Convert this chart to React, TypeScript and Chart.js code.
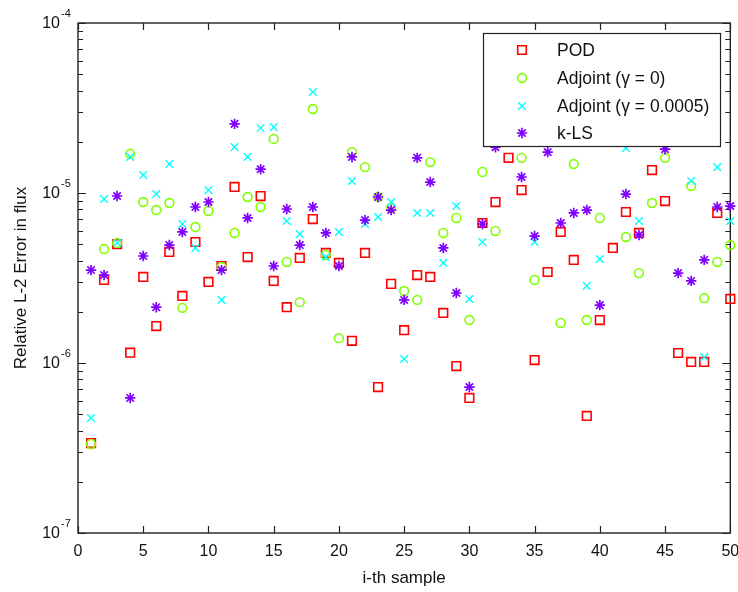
import React, { useEffect, useRef } from 'react';
import { Chart, registerables } from 'chart.js';

Chart.register(...registerables);

const samples = [1, 2, 3, 4, 5, 6, 7, 8, 9, 10, 11, 12, 13, 14, 15, 16, 17, 18, 19, 20, 21, 22, 23, 24, 25, 26, 27, 28, 29, 30, 31, 32, 33, 34, 35, 36, 37, 38, 39, 40, 41, 42, 43, 44, 45, 46, 47, 48, 49, 50];

const podErr = [
  3.38e-7, 3.08e-6, 5.01e-6, 1.15e-6, 3.21e-6, 1.65e-6, 4.5e-6, 2.48e-6, 5.15e-6, 3.0e-6,
  3.72e-6, 1.085e-5, 4.2e-6, 9.6e-6, 3.04e-6, 2.13e-6, 4.15e-6, 7.03e-6, 4.44e-6, 3.88e-6,
  1.35e-6, 4.44e-6, 7.22e-7, 2.92e-6, 1.56e-6, 3.29e-6, 3.21e-6, 1.97e-6, 9.6e-7, 6.23e-7,
  6.66e-6, 8.85e-6, 1.61e-5, 1.04e-5, 1.04e-6, 3.43e-6, 5.9e-6, 4.04e-6, 4.88e-7, 1.79e-6,
  4.75e-6, 7.73e-6, 5.82e-6, 1.365e-5, 8.97e-6, 1.145e-6, 1.014e-6, 1.014e-6, 7.63e-6, 2.38e-6,
];

const adjoint0Err = [
  3.34e-7, 4.68e-6, 5.08e-6, 1.7e-5, 8.85e-6, 7.94e-6, 8.73e-6, 2.11e-6, 6.31e-6, 7.84e-6,
  3.67e-6, 5.82e-6, 9.47e-6, 8.27e-6, 2.08e-5, 3.93e-6, 2.28e-6, 3.12e-5, 4.32e-6, 1.4e-6,
  1.74e-5, 1.42e-5, 9.47e-6, 8.16e-6, 2.65e-6, 2.35e-6, 1.52e-5, 5.82e-6, 7.13e-6, 1.79e-6,
  1.33e-5, 5.98e-6, 2.19e-5, 1.61e-5, 3.08e-6, 2.51e-5, 1.72e-6, 1.48e-5, 1.79e-6, 7.13e-6,
  2.35e-5, 5.51e-6, 3.38e-6, 8.73e-6, 1.61e-5, 2.41e-5, 1.1e-5, 2.41e-6, 3.93e-6, 4.94e-6,
];

const adjoint5Err = [
  4.75e-7, 9.22e-6, 5.08e-6, 1.63e-5, 1.276e-5, 9.86e-6, 1.48e-5, 6.57e-6, 4.75e-6, 1.04e-5,
  2.35e-6, 1.86e-5, 1.63e-5, 2.41e-5, 2.44e-5, 6.84e-6, 5.74e-6, 3.93e-5, 4.2e-6, 5.9e-6,
  1.176e-5, 6.57e-6, 7.22e-6, 8.85e-6, 1.056e-6, 7.63e-6, 7.63e-6, 3.88e-6, 8.38e-6, 2.38e-6,
  5.15e-6, 2.35e-5, 2.76e-5, 2.11e-5, 5.15e-6, 3.08e-5, 2.05e-5, 2.62e-5, 2.84e-6, 4.09e-6,
  2.87e-5, 1.84e-5, 6.84e-6, 2.51e-5, 2.69e-5, 3.29e-5, 1.176e-5, 1.085e-6, 1.42e-5, 6.84e-6,
];

const klsErr = [
  3.52e-6, 3.29e-6, 9.6e-6, 6.23e-7, 4.26e-6, 2.13e-6, 4.94e-6, 5.9e-6, 8.27e-6, 8.85e-6,
  3.52e-6, 2.55e-5, 7.13e-6, 1.38e-5, 3.72e-6, 8.05e-6, 4.94e-6, 8.27e-6, 5.82e-6, 3.72e-6,
  1.63e-5, 6.93e-6, 9.47e-6, 7.94e-6, 2.35e-6, 1.61e-5, 1.16e-5, 4.75e-6, 2.58e-6, 7.22e-7,
  6.57e-6, 1.86e-5, 2.05e-5, 1.242e-5, 5.58e-6, 1.74e-5, 6.66e-6, 7.63e-6, 7.94e-6, 2.19e-6,
  2.05e-5, 9.86e-6, 5.66e-6, 2.19e-5, 1.81e-5, 3.38e-6, 3.04e-6, 4.04e-6, 8.27e-6, 8.38e-6,
];

const xTicks = [0, 5, 10, 15, 20, 25, 30, 35, 40, 45, 50];
const yDecades = [1e-7, 1e-6, 1e-5, 1e-4];
const yExponents = ['-7', '-6', '-5', '-4'];
const seriesLabels = ['POD', 'Adjoint (\u03b3 = 0)', 'Adjoint (\u03b3 = 0.0005)', 'k-LS'];
const xTitle = 'i-th sample';
const yTitle = 'Relative L-2 Error in flux';

const FONT = '"Liberation Sans", Arial, Helvetica, sans-serif';
const AXIS_COLOR = '#222222';
const TEXT_COLOR = '#111111';

const seriesStyles = [
  { color: '#ff0000', pointStyle: 'rect', radius: 6.1, width: 1.6 },
  { color: '#80ff00', pointStyle: 'circle', radius: 4.4, width: 1.6 },
  { color: '#00ffff', pointStyle: 'crossRot', radius: 5.4, width: 1.4 },
  { color: '#8000ff', pointStyle: 'star', radius: 5.2, width: 1.7 },
];

function drawMarker(ctx: CanvasRenderingContext2D, style: string, x: number, y: number, r: number) {
  ctx.beginPath();
  if (style === 'rect') {
    const s = Math.SQRT1_2 * r;
    ctx.rect(x - s, y - s, 2 * s, 2 * s);
  } else if (style === 'circle') {
    ctx.arc(x, y, r, 0, Math.PI * 2);
  } else if (style === 'crossRot') {
    const o = Math.SQRT1_2 * r;
    ctx.moveTo(x - o, y - o);
    ctx.lineTo(x + o, y + o);
    ctx.moveTo(x - o, y + o);
    ctx.lineTo(x + o, y - o);
  } else {
    ctx.moveTo(x, y - r);
    ctx.lineTo(x, y + r);
    ctx.moveTo(x - r, y);
    ctx.lineTo(x + r, y);
    const o = Math.SQRT1_2 * r;
    ctx.moveTo(x - o, y - o);
    ctx.lineTo(x + o, y + o);
    ctx.moveTo(x - o, y + o);
    ctx.lineTo(x + o, y - o);
  }
  ctx.stroke();
}

const matlabAxes = {
  id: 'matlabAxes',
  beforeDatasetsDraw(chart: any) {
    const { ctx, chartArea } = chart;
    const xs = chart.scales.x;
    const ys = chart.scales.y;
    const { left, right, top, bottom } = chartArea;
    ctx.save();
    ctx.strokeStyle = AXIS_COLOR;
    ctx.lineWidth = 1.4;
    ctx.strokeRect(left, top, right - left, bottom - top);

    ctx.lineWidth = 1.2;
    ctx.beginPath();
    xTicks.forEach((v) => {
      const px = Math.round(xs.getPixelForValue(v)) + 0.5;
      ctx.moveTo(px, bottom);
      ctx.lineTo(px, bottom - 7);
      ctx.moveTo(px, top);
      ctx.lineTo(px, top + 7);
    });
    yDecades.forEach((d, i) => {
      const py = Math.round(ys.getPixelForValue(d)) + 0.5;
      ctx.moveTo(left, py);
      ctx.lineTo(left + 8, py);
      ctx.moveTo(right, py);
      ctx.lineTo(right - 8, py);
      if (i < yDecades.length - 1) {
        for (let m = 2; m <= 9; m++) {
          const pm = Math.round(ys.getPixelForValue(d * m)) + 0.5;
          ctx.moveTo(left, pm);
          ctx.lineTo(left + 5, pm);
          ctx.moveTo(right, pm);
          ctx.lineTo(right - 5, pm);
        }
      }
    });
    ctx.stroke();

    ctx.fillStyle = TEXT_COLOR;
    ctx.font = `16px ${FONT}`;
    ctx.textAlign = 'center';
    ctx.textBaseline = 'middle';
    xTicks.forEach((v) => {
      ctx.fillText(String(v), xs.getPixelForValue(v), bottom + 19);
    });

    yDecades.forEach((d, i) => {
      const py = ys.getPixelForValue(d);
      ctx.font = `16px ${FONT}`;
      ctx.textAlign = 'right';
      ctx.textBaseline = 'middle';
      ctx.fillText('10', 60, py + 1);
      ctx.font = `11px ${FONT}`;
      ctx.textAlign = 'left';
      ctx.textBaseline = 'alphabetic';
      ctx.fillText(yExponents[i], 61, py - 6);
    });

    ctx.font = `17px ${FONT}`;
    ctx.textAlign = 'center';
    ctx.textBaseline = 'middle';
    ctx.fillText(xTitle, (left + right) / 2, 578);
    ctx.save();
    ctx.translate(21, (top + bottom) / 2);
    ctx.rotate(-Math.PI / 2);
    ctx.fillText(yTitle, 0, 0);
    ctx.restore();
    ctx.restore();
  },
  afterDatasetsDraw(chart: any) {
    const { ctx } = chart;
    ctx.save();
    const lx = 483.5, ly = 33.5, lw = 237, lh = 113;
    ctx.fillStyle = '#ffffff';
    ctx.fillRect(lx, ly, lw, lh);
    ctx.strokeStyle = AXIS_COLOR;
    ctx.lineWidth = 1.2;
    ctx.strokeRect(lx, ly, lw, lh);
    const rows = [50, 78, 106, 133];
    seriesLabels.forEach((label, i) => {
      const st = seriesStyles[i];
      ctx.strokeStyle = st.color;
      ctx.lineWidth = st.width;
      drawMarker(ctx, st.pointStyle, 522, rows[i], st.radius);
      ctx.fillStyle = TEXT_COLOR;
      ctx.font = `17.5px ${FONT}`;
      ctx.textAlign = 'left';
      ctx.textBaseline = 'middle';
      ctx.fillText(label, 557, rows[i] + 1);
    });
    ctx.restore();
  },
};

export default function App() {
  const canvasRef = useRef<HTMLCanvasElement | null>(null);

  useEffect(() => {
    if (!canvasRef.current) return;
    const series = [podErr, adjoint0Err, adjoint5Err, klsErr];
    const datasets = series.map((arr, i) => ({
      label: seriesLabels[i],
      data: samples.map((s, k) => ({ x: s, y: arr[k] })),
      showLine: false,
      pointStyle: seriesStyles[i].pointStyle as any,
      pointRadius: seriesStyles[i].radius,
      pointHoverRadius: seriesStyles[i].radius,
      pointBorderColor: seriesStyles[i].color,
      pointBackgroundColor: 'rgba(0,0,0,0)',
      pointBorderWidth: seriesStyles[i].width,
      borderColor: seriesStyles[i].color,
      backgroundColor: 'rgba(0,0,0,0)',
      order: 4 - i,
      clip: false as any,
    }));
    const chart = new Chart(canvasRef.current, {
      type: 'scatter',
      data: { datasets },
      options: {
        animation: false,
        responsive: false,
        devicePixelRatio: 1,
        layout: { padding: { left: 78, right: 7, top: 23, bottom: 59 } },
        plugins: { legend: { display: false }, tooltip: { enabled: false } },
        scales: {
          x: { type: 'linear', min: 0, max: 50, display: false },
          y: { type: 'logarithmic', min: 1e-7, max: 1e-4, display: false },
        },
      },
      plugins: [matlabAxes],
    });
    return () => chart.destroy();
  }, []);

  return (
    <div style={{ position: 'fixed', left: 0, top: 0, width: 738, height: 592, background: '#ffffff' }}>
      <canvas ref={canvasRef} width={738} height={592} style={{ width: 738, height: 592 }} />
    </div>
  );
}
